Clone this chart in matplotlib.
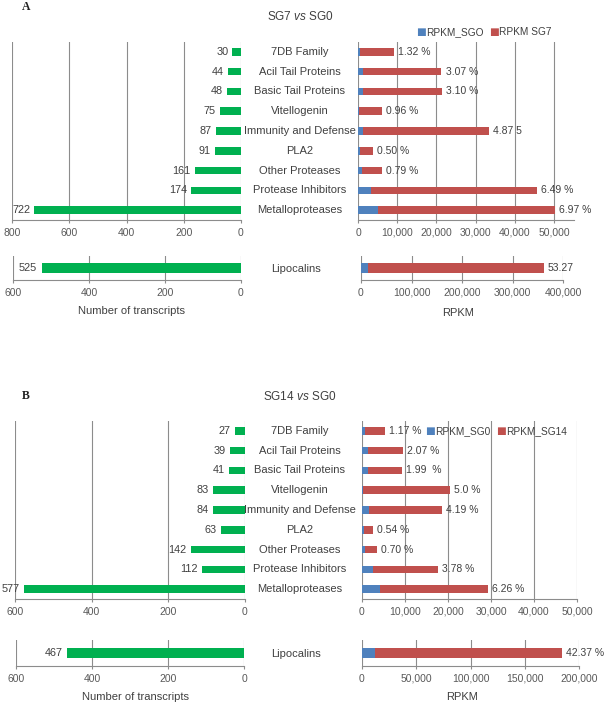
import matplotlib
matplotlib.use("Agg")
import matplotlib.pyplot as plt
from matplotlib.ticker import FuncFormatter

plt.rcParams['font.family'] = ['Liberation Sans', 'DejaVu Sans']
plt.rcParams['mathtext.fontset'] = 'custom'
plt.rcParams['mathtext.it'] = 'Liberation Sans:italic'
plt.rcParams['mathtext.rm'] = 'Liberation Sans'

# ---------------- data ----------------
categories = ["7DB Family", "Acil Tail Proteins", "Basic Tail Proteins", "Vitellogenin",
              "Immunity and Defense", "PLA2", "Other Proteases", "Protease Inhibitors",
              "Metalloproteases"]

A_transcripts = [30, 44, 48, 75, 87, 91, 161, 174, 722]
A_rpkm_sg0 = [500, 1300, 1300, 150, 1350, 500, 1000, 3400, 5000]
A_rpkm_sg7 = [9200, 21300, 21500, 6100, 33300, 3700, 6100, 45600, 50300]
A_pct = ["1.32 %", "3.07 %", "3.10 %", "0.96 %", "4.87 5", "0.50 %", "0.79 %", "6.49 %", "6.97 %"]
A_lipo_transcripts = 525
A_lipo_sg0 = 14000
A_lipo_sg7 = 362000
A_lipo_pct = "53.27"

B_transcripts = [27, 39, 41, 83, 84, 63, 142, 112, 577]
B_rpkm_sg0 = [700, 1400, 1400, 300, 1600, 500, 700, 2500, 4200]
B_rpkm_sg14 = [5350, 9500, 9300, 20500, 18600, 2550, 3500, 17700, 29300]
B_pct = ["1.17 %", "2.07 %", "1.99  %", "5.0 %", "4.19 %", "0.54 %", "0.70 %", "3.78 %", "6.26 %"]
B_lipo_transcripts = 467
B_lipo_sg0 = 12000
B_lipo_sg14 = 184000
B_lipo_pct = "42.37 %"

# ---------------- style ----------------
W, H = 604, 704
GREEN = "#00B050"
BLUE = "#4F81BD"
RED = "#C0504D"
GRID = "#8C8C8C"
TXT = "#404040"
TICK = "#595959"

fig = plt.figure(figsize=(W / 100, H / 100), dpi=100)


def add_ax(x0, x1, yt, yb):
    return fig.add_axes([x0 / W, 1 - yb / H, (x1 - x0) / W, (yb - yt) / H])


def px(x, y):
    return x / W, 1 - y / H


comma = FuncFormatter(lambda v, p: f"{int(v):,}")


def style(ax, ticks, xlim, ylim):
    ax.set_xlim(*xlim)
    ax.set_ylim(*ylim)
    ax.set_xticks(ticks)
    ax.set_yticks([])
    for s in ("top", "left", "right"):
        ax.spines[s].set_visible(False)
    ax.spines["bottom"].set_color(GRID)
    ax.spines["bottom"].set_linewidth(0.8)
    ax.xaxis.grid(True, color=GRID, linewidth=0.8)
    ax.set_axisbelow(True)
    ax.tick_params(axis="x", direction="out", length=2.2, width=0.8, color=GRID,
                   labelsize=7.5, labelcolor=TICK, pad=3.5)
    ax.patch.set_alpha(0)


ypos = list(range(len(categories)))


def panel(yt, yb, lt, lb, left_x, right_x, lower_left_x, lower_right_x,
          trans, sg0, sgx, pct, ltrans, lsg0, lsgx, lpct,
          left_max, right_xlim, right_ticks, lower_right_ticks, lower_right_max):
    # upper left: transcripts
    ax = add_ax(left_x[0], left_x[1], yt, yb)
    ax.barh(ypos, trans, height=0.38, color=GREEN)
    style(ax, list(range(0, left_max + 1, 200)), (left_max, 0), (len(categories) - 0.5, -0.5))
    for y, v in zip(ypos, trans):
        ax.annotate(str(v), (v, y), xytext=(-3, 0), textcoords="offset points",
                    ha="right", va="center", fontsize=7.8, color=TXT)
    # upper right: RPKM
    ax2 = add_ax(right_x[0], right_x[1], yt, yb)
    ax2.barh(ypos, sgx, height=0.38, color=RED)
    ax2.barh(ypos, sg0, height=0.38, color=BLUE)
    style(ax2, right_ticks, right_xlim, (len(categories) - 0.5, -0.5))
    ax2.xaxis.set_major_formatter(comma)
    for y, v, t in zip(ypos, sgx, pct):
        ax2.annotate(t, (v, y), xytext=(3, 0), textcoords="offset points",
                     ha="left", va="center", fontsize=7.5, color=TXT)
    # category labels
    row_h = (yb - yt) / len(categories)
    for i, c in enumerate(categories):
        fig.text(*px(300, yt + row_h * (i + 0.5)), c, ha="center", va="center",
                 fontsize=8, color=TXT)
    # lower left
    ax3 = add_ax(lower_left_x[0], lower_left_x[1], lt, lb)
    ax3.barh([0], [ltrans], height=0.38, color=GREEN)
    style(ax3, [0, 200, 400, 600], (600, 0), (-0.5, 0.5))
    ax3.annotate(str(ltrans), (ltrans, 0), xytext=(-3, 0), textcoords="offset points",
                 ha="right", va="center", fontsize=7.8, color=TXT)
    # lower right
    ax4 = add_ax(lower_right_x[0], lower_right_x[1], lt, lb)
    ax4.barh([0], [lsgx], height=0.38, color=RED)
    ax4.barh([0], [lsg0], height=0.38, color=BLUE)
    style(ax4, lower_right_ticks, (0, lower_right_max), (-0.5, 0.5))
    ax4.xaxis.set_major_formatter(comma)
    ax4.annotate(lpct, (lsgx, 0), xytext=(3, 0), textcoords="offset points",
                 ha="left", va="center", fontsize=7.5, color=TXT)
    fig.text(*px(296, (lt + lb) / 2 + 1), "Lipocalins", ha="center", va="center",
             fontsize=8, color=TXT)


# ---------------- panel A ----------------
panel(42, 220, 256, 280, (12, 241), (358, 573.6), (13, 241), (361, 563),
      A_transcripts, A_rpkm_sg0, A_rpkm_sg7, A_pct,
      A_lipo_transcripts, A_lipo_sg0, A_lipo_sg7, A_lipo_pct,
      800, (0, 55000), list(range(0, 50001, 10000)),
      list(range(0, 400001, 100000)), 400000)

fig.text(*px(22, 7), "A", ha="left", va="center", fontsize=8.5, fontweight="bold",
         family="Liberation Serif", color="#202020")
fig.text(*px(300, 16), r"SG7 $\mathit{vs}$ SG0", ha="center", va="center",
         fontsize=8.5, color=TXT)
fig.text(*px(132, 311), "Number of transcripts", ha="center", va="center", fontsize=8, color=TXT)
fig.text(*px(458, 313), "RPKM", ha="center", va="center", fontsize=8, color=TXT)

# legend A
fig.text(*px(421, 32), "\u25A0", ha="center", va="center", fontsize=7.5, color=BLUE,
         family="DejaVu Sans")
fig.text(*px(426, 32), "RPKM_SGO", ha="left", va="center", fontsize=7.3, color=TXT)
fig.text(*px(494, 32), "\u25A0", ha="center", va="center", fontsize=7.5, color=RED,
         family="DejaVu Sans")
fig.text(*px(499, 32), "RPKM SG7", ha="left", va="center", fontsize=7.3, color=TXT)

# ---------------- panel B ----------------
panel(421, 599, 640, 666, (15, 245), (362, 577), (16, 244), (362, 579),
      B_transcripts, B_rpkm_sg0, B_rpkm_sg14, B_pct,
      B_lipo_transcripts, B_lipo_sg0, B_lipo_sg14, B_lipo_pct,
      600, (0, 50000), list(range(0, 50001, 10000)),
      list(range(0, 200001, 50000)), 200000)

fig.text(*px(22, 396), "B", ha="left", va="center", fontsize=8.5, fontweight="bold",
         family="Liberation Serif", color="#202020")
fig.text(*px(300, 397), r"SG14 $\mathit{vs}$ SG0", ha="center", va="center",
         fontsize=8.5, color=TXT)
fig.text(*px(136, 697), "Number of transcripts", ha="center", va="center", fontsize=8, color=TXT)
fig.text(*px(462, 697), "RPKM", ha="center", va="center", fontsize=8, color=TXT)

# legend B
fig.text(*px(430, 431), "\u25A0", ha="center", va="center", fontsize=7.5, color=BLUE,
         family="DejaVu Sans")
fig.text(*px(435, 431), "RPKM_SG0", ha="left", va="center", fontsize=7.3, color=TXT)
fig.text(*px(501, 431), "\u25A0", ha="center", va="center", fontsize=7.5, color=RED,
         family="DejaVu Sans")
fig.text(*px(506, 431), "RPKM_SG14", ha="left", va="center", fontsize=7.3, color=TXT)

fig.savefig("out.png", dpi=100, facecolor="white")
